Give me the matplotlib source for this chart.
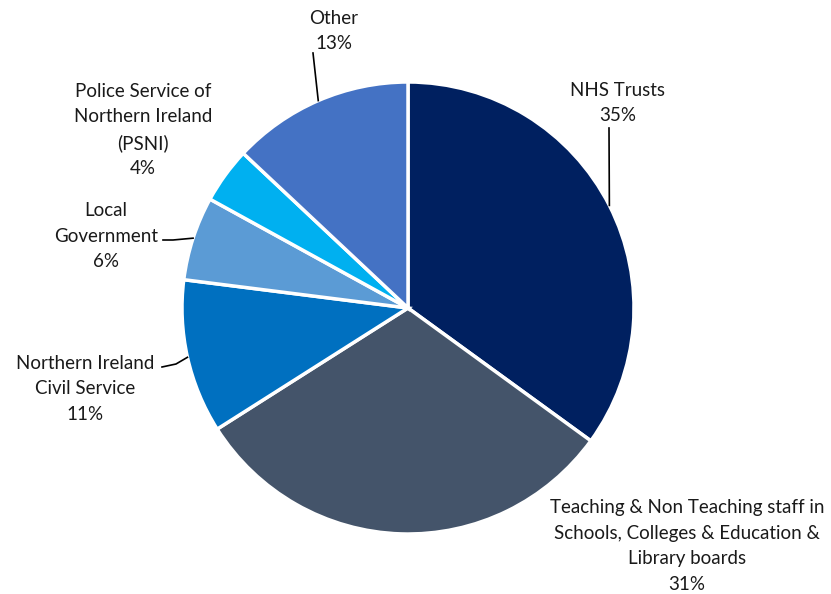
import numpy as np
import matplotlib.pyplot as plt

plt.rcParams["font.family"] = ["Lato", "DejaVu Sans"]

# employer groups, clockwise from 12 o'clock
labels = [
    "NHS Trusts",
    "Teaching & Non Teaching staff in\nSchools, Colleges & Education &\nLibrary boards",
    "Northern Ireland\nCivil Service",
    "Local\nGovernment",
    "Police Service of\nNorthern Ireland\n(PSNI)",
    "Other",
]
shares = [35, 31, 11, 6, 4, 13]
colors = ["#002060", "#44546A", "#0070C0", "#5B9BD5", "#00B0F0", "#4472C4"]

W, H = 831, 594
cx, cy, r = 408, H - 308, 226

# label block centres (pixels, y measured from top) and leader elbow points
label_pos = [(618, 103), (687, 546), (85, 389), (106, 236), (143, 130), (334, 31)]
elbows = [(609, 128), None, (176, 364), (173, 240), None, (313, 53)]
starts = [None, None, (162, 367), (163, 240), None, None]

fig = plt.figure(figsize=(W / 100, H / 100), dpi=100)
ax = fig.add_axes([0, 0, 1, 1])

wedges, _ = ax.pie(shares, colors=colors, startangle=90, counterclock=False,
                   center=(cx, cy), radius=r, frame=True,
                   wedgeprops=dict(edgecolor="white", linewidth=2.5))
ax.set_xlim(0, W)
ax.set_ylim(0, H)
ax.set_aspect("equal")
ax.axis("off")

for i, (lab, val) in enumerate(zip(labels, shares)):
    x, y = label_pos[i]
    ax.text(x, H - y, f"{lab}\n{val}%", ha="center", va="center",
            fontsize=13.5, color="#1a1a1a", linespacing=1.6)
    if elbows[i] is None:
        continue
    w = wedges[i]
    mid = np.deg2rad((w.theta1 + w.theta2) / 2)
    px, py = cx + r * np.cos(mid), cy + r * np.sin(mid)
    xs, ys = [px, elbows[i][0]], [py, H - elbows[i][1]]
    if starts[i] is not None:
        xs.append(starts[i][0])
        ys.append(H - starts[i][1])
    ax.plot(xs, ys, color="black", linewidth=1.2)

fig.savefig("out.png", dpi=100)
